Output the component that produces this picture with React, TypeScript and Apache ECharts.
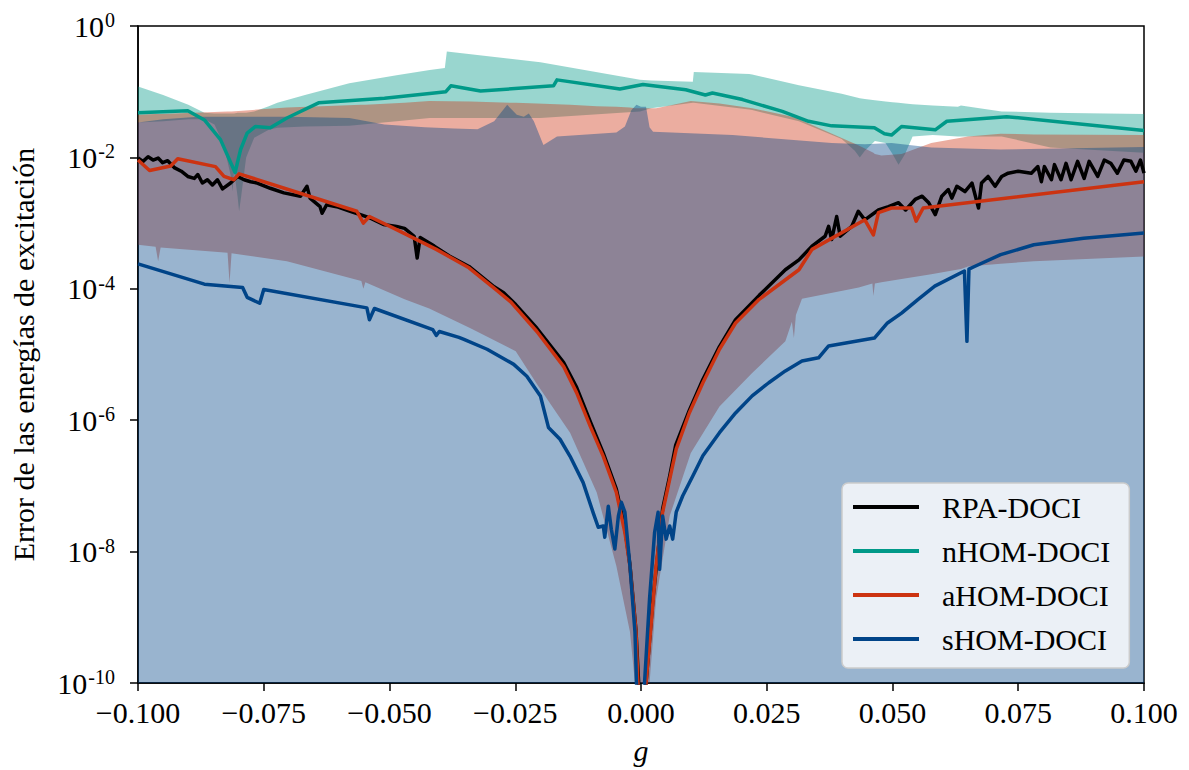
import React, { useEffect, useRef } from "react";
import * as echarts from "echarts";

// Values are log10 of the excitation-energy error.
const xTickValues = [-0.1, -0.075, -0.05, -0.025, 0, 0.025, 0.05, 0.075, 0.1];
const yMinExp = -10;
const yMaxExp = 0;

// RPA-DOCI line [g, log10 err]
const rpaLine: [number, number][] = [
  [-0.1, -2.01], [-0.099, -2.06], [-0.098, -1.99], [-0.097, -2.04], [-0.096, -2.01], [-0.0951, -2.08],
  [-0.0941, -2.05], [-0.0927, -2.16], [-0.0914, -2.21], [-0.0901, -2.29], [-0.0888, -2.32], [-0.0881, -2.26],
  [-0.0872, -2.39], [-0.0862, -2.34], [-0.0852, -2.42], [-0.0842, -2.34], [-0.0832, -2.48], [-0.0816, -2.39],
  [-0.0802, -2.29], [-0.0789, -2.34], [-0.0776, -2.37], [-0.0763, -2.39], [-0.0737, -2.47], [-0.071, -2.54],
  [-0.0677, -2.59], [-0.0664, -2.44], [-0.0658, -2.62], [-0.0638, -2.75], [-0.0634, -2.85], [-0.0625, -2.72],
  [-0.0605, -2.75], [-0.0578, -2.82], [-0.0539, -2.92], [-0.0512, -3.02], [-0.0486, -3.05], [-0.047, -3.08],
  [-0.0451, -3.2], [-0.0445, -3.53], [-0.0439, -3.22], [-0.0411, -3.35], [-0.0381, -3.5], [-0.0342, -3.66],
  [-0.0292, -3.97], [-0.0273, -4.06], [-0.0249, -4.24], [-0.0207, -4.6], [-0.0154, -5.12], [-0.0128, -5.5],
  [-0.0101, -6.02], [-0.0075, -6.5], [-0.0049, -7.05], [-0.0032, -7.65], [-0.0022, -8.2], [-0.001, -9.2],
  [0.0002, -11], [0.001, -10], [0.0024, -8.7], [0.0043, -7.35], [0.0057, -6.85], [0.0069, -6.38],
  [0.0096, -5.85], [0.0123, -5.38], [0.0156, -4.88], [0.0188, -4.47], [0.0235, -4.1], [0.0287, -3.71],
  [0.0314, -3.56], [0.034, -3.35], [0.0366, -3.2], [0.0373, -3.05], [0.0379, -3.25], [0.0389, -2.9],
  [0.0396, -3.2], [0.0419, -3.05], [0.0432, -2.82], [0.0445, -2.95], [0.0472, -2.8], [0.0492, -2.75],
  [0.0512, -2.69], [0.0526, -2.8], [0.0545, -2.64], [0.0559, -2.59], [0.0572, -2.69], [0.0585, -2.87],
  [0.0598, -2.59], [0.0611, -2.49], [0.0618, -2.62], [0.0628, -2.44], [0.0644, -2.52], [0.0658, -2.39],
  [0.0671, -2.77], [0.0677, -2.39], [0.069, -2.29], [0.0704, -2.44], [0.0717, -2.29], [0.073, -2.24],
  [0.075, -2.21], [0.0776, -2.24], [0.0789, -2.14], [0.0796, -2.37], [0.0802, -2.14], [0.0816, -2.34],
  [0.0822, -2.11], [0.0835, -2.34], [0.0845, -2.09], [0.0855, -2.34], [0.0868, -2.06], [0.0881, -2.32],
  [0.0891, -2.06], [0.0908, -2.29], [0.0921, -2.04], [0.0934, -2.09], [0.0947, -2.24], [0.096, -2.04],
  [0.0974, -2.06], [0.0984, -2.21], [0.0993, -2.04], [0.1, -2.24],
];

// nHOM-DOCI line
const nhomLine: [number, number][] = [
  [-0.1, -1.32], [-0.0901, -1.29], [-0.0868, -1.43], [-0.0836, -1.73], [-0.0807, -2.23], [-0.0796, -1.88],
  [-0.0783, -1.63], [-0.0767, -1.53], [-0.0737, -1.55], [-0.0704, -1.4], [-0.0641, -1.17], [-0.051, -1.1],
  [-0.0411, -1.02], [-0.0388, -1.0], [-0.0378, -0.91], [-0.0319, -0.99], [-0.0174, -0.91], [-0.0167, -0.82],
  [-0.0042, -0.96], [0.0004, -0.89], [0.0089, -0.97], [0.0128, -1.05], [0.0142, -1.02], [0.0202, -1.12],
  [0.0281, -1.3], [0.0333, -1.45], [0.0379, -1.52], [0.0464, -1.55], [0.0484, -1.64], [0.0498, -1.66],
  [0.0518, -1.53], [0.0585, -1.58], [0.0608, -1.45], [0.0727, -1.38], [0.1, -1.59],
];

// aHOM-DOCI line
const ahomLine: [number, number][] = [
  [-0.1, -2.04], [-0.0977, -2.2], [-0.0935, -2.13], [-0.0921, -2.02], [-0.0846, -2.14], [-0.0829, -2.29],
  [-0.0809, -2.34], [-0.0799, -2.25], [-0.0565, -2.82], [-0.0552, -3.0], [-0.054, -2.9], [-0.0486, -3.1],
  [-0.0407, -3.4], [-0.0342, -3.68], [-0.0289, -4.01], [-0.0259, -4.2], [-0.0207, -4.65], [-0.0154, -5.18],
  [-0.0128, -5.58], [-0.0101, -6.09], [-0.0075, -6.55], [-0.0049, -7.1], [-0.0032, -7.71], [-0.0022, -8.22],
  [-0.001, -9.22], [-0.0006, -10], [0.0002, -11], [0.001, -10], [0.003, -8.22], [0.0043, -7.4],
  [0.0057, -6.9], [0.007, -6.44], [0.0096, -5.89], [0.0123, -5.43], [0.0156, -4.92], [0.0188, -4.52],
  [0.0235, -4.16], [0.0314, -3.71], [0.034, -3.4], [0.0445, -2.95], [0.0462, -3.18], [0.0472, -2.84],
  [0.0498, -2.77], [0.0538, -2.77], [0.0547, -2.97], [0.0561, -2.77], [0.1, -2.37],
];

// sHOM-DOCI line
const shomLine: [number, number][] = [
  [-0.1, -3.62], [-0.0868, -3.93], [-0.0792, -3.98], [-0.0783, -4.13], [-0.0758, -4.22], [-0.075, -4.01],
  [-0.0545, -4.29], [-0.054, -4.47], [-0.053, -4.3], [-0.0414, -4.62], [-0.0407, -4.71], [-0.0401, -4.65],
  [-0.0362, -4.74], [-0.0352, -4.77], [-0.0306, -4.92], [-0.0253, -5.15], [-0.0227, -5.33], [-0.02, -5.63],
  [-0.0184, -6.11], [-0.0161, -6.29], [-0.0141, -6.55], [-0.0115, -6.95], [-0.0095, -7.41], [-0.0085, -7.63],
  [-0.0075, -7.61], [-0.0072, -7.78], [-0.0065, -7.31], [-0.0059, -7.66], [-0.0052, -7.96], [-0.0045, -7.46],
  [-0.0039, -7.25], [-0.0032, -7.4], [-0.0022, -8.22], [-0.0012, -9.22], [-0.0009, -10], [0.0002, -11],
  [0.0007, -10], [0.0017, -8.72], [0.0027, -7.71], [0.0034, -7.4], [0.0037, -8.27], [0.0043, -7.46],
  [0.005, -7.81], [0.0057, -7.61], [0.0063, -7.81], [0.007, -7.4], [0.0083, -7.15], [0.0103, -6.85],
  [0.0123, -6.54], [0.0156, -6.19], [0.0188, -5.89], [0.0221, -5.63], [0.0254, -5.43], [0.0287, -5.25],
  [0.032, -5.1], [0.0353, -5.05], [0.0373, -4.87], [0.0464, -4.75], [0.049, -4.52], [0.0518, -4.37],
  [0.0551, -4.16], [0.0584, -3.96], [0.0643, -3.73], [0.0648, -4.8], [0.0652, -3.7], [0.0663, -3.66],
  [0.0715, -3.48], [0.0781, -3.33], [0.088, -3.23], [0.1, -3.15],
];

// Bands [g, lower log10, upper log10]
const nhomBand: [number, number, number][] = [
  [-0.1, -1.47, -0.92], [-0.095, -1.45, -1.05], [-0.09, -1.42, -1.2], [-0.0868, -1.42, -1.32],
  [-0.0848, -1.5, -1.33], [-0.083, -1.8, -1.33], [-0.0815, -2.3, -1.33], [-0.0812, -2.52, -1.33],
  [-0.0809, -2.2, -1.33], [-0.0802, -2.6, -1.32], [-0.0799, -2.82, -1.32], [-0.0795, -2.6, -1.32],
  [-0.0785, -2.0, -1.32], [-0.0769, -1.7, -1.3], [-0.074, -1.58, -1.22], [-0.0723, -1.55, -1.17],
  [-0.0668, -1.53, -1.05], [-0.058, -1.52, -0.87], [-0.0486, -1.45, -0.75], [-0.042, -1.4, -0.67],
  [-0.039, -1.4, -0.64], [-0.0386, -1.4, -0.39], [-0.02, -1.4, -0.55], [-0.0002, -1.3, -0.82],
  [0.002, -1.25, -0.83], [0.0103, -1.17, -0.85], [0.0105, -1.17, -0.7], [0.0215, -1.27, -0.73],
  [0.0221, -1.28, -0.74], [0.0314, -1.45, -0.9], [0.0399, -1.72, -1.03], [0.0425, -1.9, -1.08],
  [0.0435, -2.0, -1.1], [0.0445, -1.9, -1.11], [0.0465, -1.75, -1.13], [0.0486, -1.78, -1.15],
  [0.05, -1.95, -1.16], [0.0512, -2.11, -1.17], [0.0525, -1.95, -1.18], [0.054, -1.68, -1.19],
  [0.058, -1.66, -1.21], [0.063, -1.68, -1.23], [0.0636, -1.68, -1.21], [0.0717, -1.68, -1.3],
  [0.0814, -1.85, -1.32], [0.1, -1.93, -1.34],
];

const ahomBand: [number, number, number][] = [
  [-0.1, -3.33, -1.35], [-0.0965, -3.36, -1.34], [-0.096, -3.58, -1.34], [-0.0955, -3.37, -1.34],
  [-0.0822, -3.45, -1.3], [-0.0818, -3.91, -1.3], [-0.0814, -3.46, -1.3], [-0.0704, -3.58, -1.24],
  [-0.0556, -3.88, -1.2], [-0.0552, -4.0, -1.2], [-0.0548, -3.9, -1.2], [-0.047, -4.16, -1.17],
  [-0.0421, -4.3, -1.14], [-0.0339, -4.6, -1.15], [-0.0249, -4.95, -1.17], [-0.0207, -5.45, -1.18],
  [-0.0141, -6.19, -1.2], [-0.0088, -7.1, -1.22], [-0.0049, -8.22, -1.23], [-0.0022, -9.22, -1.24],
  [-0.0012, -10.0, -1.25], [0.0, -11, -1.25], [0.0017, -10.0, -1.25], [0.003, -8.72, -1.25],
  [0.0057, -7.46, -1.21], [0.0099, -6.5, -1.14], [0.0156, -5.79, -1.18], [0.0221, -5.28, -1.25],
  [0.0287, -4.8, -1.36], [0.03, -4.5, -1.38], [0.0304, -4.75, -1.39], [0.0308, -4.4, -1.39],
  [0.032, -4.15, -1.44], [0.0433, -3.98, -1.82], [0.046, -3.92, -1.92], [0.0462, -4.11, -1.93],
  [0.0465, -3.92, -1.95], [0.0478, -3.9, -1.97], [0.0518, -3.85, -1.95], [0.0577, -3.78, -1.78],
  [0.0636, -3.7, -1.7], [0.065, -3.66, -1.68], [0.0715, -3.62, -1.64], [0.0781, -3.58, -1.65],
  [0.1, -3.51, -1.66],
];

// sHOM band goes down to the axis floor; only its upper edge is read
const shomBandUpper: [number, number][] = [
  [-0.1, -1.47], [-0.095, -1.42], [-0.088, -1.38], [-0.07, -1.38], [-0.058, -1.4], [-0.051, -1.5],
  [-0.043, -1.54], [-0.0372, -1.56], [-0.0325, -1.57], [-0.0292, -1.45], [-0.0266, -1.2], [-0.0247, -1.35],
  [-0.0233, -1.38], [-0.0223, -1.33], [-0.0213, -1.45], [-0.0194, -1.81], [-0.0167, -1.68], [-0.0049, -1.62],
  [-0.0032, -1.53], [-0.0019, -1.28], [-0.0009, -1.2], [0.0, -1.23], [0.001, -1.23], [0.0017, -1.54],
  [0.0024, -1.61], [0.0182, -1.66], [0.0379, -1.78], [0.0445, -1.8], [0.0498, -1.78], [0.0577, -1.85],
  [0.0715, -1.88], [0.1, -1.84],
];

const names = ["RPA-DOCI", "nHOM-DOCI", "aHOM-DOCI", "sHOM-DOCI"];
const colors = ["#000000", "#009988", "#CC3311", "#004488"];
const FONT = "Liberation Serif, Times New Roman, serif";

const p10 = (e: number) => Math.pow(10, e);

function bandSeries(id: string, pts: [number, number, number][], fill: string) {
  return {
    type: "custom",
    id,
    coordinateSystem: "cartesian2d",
    clip: true,
    silent: true,
    z: 1,
    data: pts.map((p) => [p[0], p10(p[2])]),
    renderItem: (params: any, api: any) => {
      if (params.dataIndex !== 0) return null;
      const upper = pts.map((p) => api.coord([p[0], p10(p[2])]));
      const lower = pts
        .slice()
        .reverse()
        .map((p) => api.coord([p[0], p10(p[1])]));
      return {
        type: "polygon",
        shape: { points: upper.concat(lower) },
        style: { fill },
      };
    },
  };
}

export default function App() {
  const ref = useRef<HTMLDivElement>(null);
  useEffect(() => {
    document.body.style.margin = "0";
    document.body.style.overflow = "hidden";
    const chart = echarts.init(ref.current!, null, { renderer: "svg" });

    const shomBand: [number, number, number][] = shomBandUpper.map((p) => [p[0], yMinExp, p[1]]);

    const lineSeries = (name: string, color: string, pts: [number, number][]) => ({
      type: "line",
      name,
      color,
      data: pts.map((p) => [p[0], p10(p[1])]),
      showSymbol: false,
      symbol: "none",
      clip: true,
      z: 3,
      lineStyle: { color, width: 3.5, join: "round" },
    });

    chart.setOption({
      animation: false,
      grid: {
        left: 132,
        right: 45,
        top: 26,
        bottom: 86,
        show: true,
        borderColor: "#000",
        borderWidth: 1.5,
        backgroundColor: "transparent",
      },
      xAxis: {
        type: "value",
        min: xTickValues[0],
        max: xTickValues[xTickValues.length - 1],
        interval: 0.025,
        name: "g",
        nameLocation: "middle",
        nameGap: 52,
        nameTextStyle: { fontFamily: FONT, fontSize: 30, fontStyle: "italic", color: "#000" },
        axisLine: { show: true, onZero: false, lineStyle: { color: "#000", width: 1.5 } },
        axisTick: { show: true, length: 8, lineStyle: { color: "#000", width: 1.5 } },
        splitLine: { show: false },
        axisLabel: {
          margin: 14,
          fontFamily: FONT,
          fontSize: 30,
          color: "#000",
          formatter: (v: number) => v.toFixed(3).replace("-", "\u2212"),
        },
      },
      yAxis: {
        type: "log",
        logBase: 10,
        min: p10(yMinExp),
        max: p10(yMaxExp),
        interval: 2,
        name: "Error de las energías de excitación",
        nameLocation: "middle",
        nameGap: 100,
        nameTextStyle: { fontFamily: FONT, fontSize: 30, color: "#000" },
        axisLine: { show: true, onZero: false, lineStyle: { color: "#000", width: 1.5 } },
        axisTick: { show: true, length: 8, lineStyle: { color: "#000", width: 1.5 } },
        minorTick: { show: false },
        splitLine: { show: false },
        axisLabel: {
          margin: 23,
          color: "#000",
          formatter: (v: number) => {
            const e = Math.round(Math.log10(v));
            return "{b|10}{s|" + e + "}";
          },
          rich: {
            b: { fontFamily: FONT, fontSize: 30, lineHeight: 30, color: "#000" },
            s: { fontFamily: FONT, fontSize: 20, verticalAlign: "top", color: "#000", padding: [0, 0, 12, 1] },
          },
        },
      },
      legend: {
        orient: "vertical",
        left: 842,
        top: 483,
        data: names,
        icon: "rect",
        itemWidth: 66,
        itemHeight: 4,
        itemGap: 14,
        selectedMode: false,
        padding: [9, 19, 14, 11],
        backgroundColor: "rgba(255,255,255,0.8)",
        borderColor: "#cccccc",
        borderWidth: 1.5,
        borderRadius: 6,
        textStyle: { fontFamily: FONT, fontSize: 30, lineHeight: 30, color: "#000", padding: [0, 0, 0, 18] },
      },
      series: [
        bandSeries("nBand", nhomBand, "rgba(0,153,136,0.4)"),
        bandSeries("aBand", ahomBand, "rgba(204,51,17,0.4)"),
        bandSeries("sBand", shomBand, "rgba(0,68,136,0.4)"),
        lineSeries(names[0], colors[0], rpaLine),
        lineSeries(names[1], colors[1], nhomLine),
        lineSeries(names[2], colors[2], ahomLine),
        lineSeries(names[3], colors[3], shomLine),
      ],
    });
    return () => chart.dispose();
  }, []);
  return <div ref={ref} style={{ width: 1189, height: 770 }} />;
}
